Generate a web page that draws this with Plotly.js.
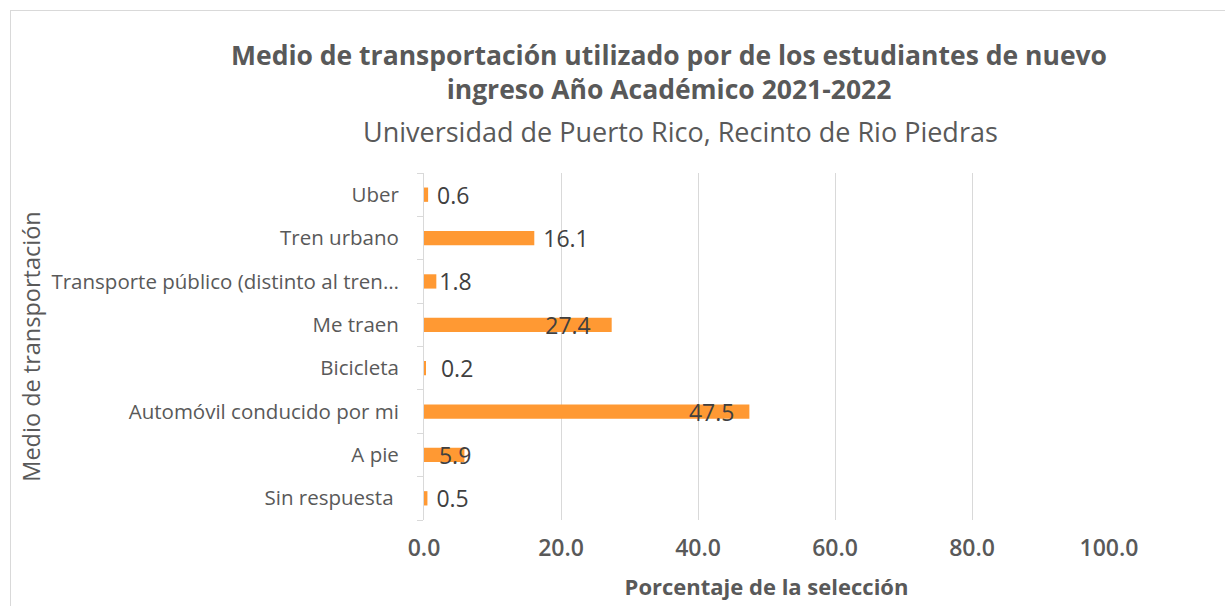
<!DOCTYPE html>
<html>
<head>
<meta charset="utf-8">
<script src="https://cdn.plot.ly/plotly-3.0.1.min.js"></script>
<style>
  html, body { margin: 0; padding: 0; background: #fff; }
  #wrap { position: relative; width: 1225px; height: 606px; overflow: hidden; }
  #frame { position: absolute; left: 10px; top: 10px; width: 2000px; height: 2000px;
           border: 1px solid #d9d9d9; pointer-events: none; }
  #chart { position: absolute; left: 0; top: 0; width: 1225px; height: 606px; }
</style>
</head>
<body>
<div id="wrap">
  <div id="frame"></div>
  <div id="chart"></div>
</div>
<script>
// Categories listed bottom to top
const categories = [
  'Sin respuesta ',
  'A pie',
  'Automóvil conducido por mi',
  'Bicicleta',
  'Me traen',
  'Transporte público (distinto al tren…',
  'Tren urbano',
  'Uber'
];
const percentages = [0.5, 5.9, 47.5, 0.2, 27.4, 1.8, 16.1, 0.6];
const labels = percentages.map(v => v.toFixed(1));
const xTickValues = [0, 20, 40, 60, 80, 100];
const xTickLabels = ['0.0', '20.0', '40.0', '60.0', '80.0', '100.0'];

const FONT = 'Open Sans, sans-serif';
const NB = '\u00a0';
// label placement (style only)
const labelPositions = ['outside', 'none', 'inside', 'outside', 'inside', 'outside', 'outside', 'outside'];
const labelTemplates = [NB + '%{text}', '%{text}', '%{text}' + NB + NB, NB + NB + '%{text}',
                        '%{text}' + NB + NB + NB, '%{text}', NB + '%{text}', NB + '%{text}'];
const startAnchored = 'A pie';

const labelFont = { family: FONT, size: 23, color: '#404040' };
const BAR = '#FF9933';

// main bars (all except the start-anchored label category)
const mainTrace = {
  type: 'bar',
  orientation: 'h',
  y: categories,
  x: percentages.map((v, i) => categories[i] === startAnchored ? null : v),
  text: labels.map((t, i) => categories[i] === startAnchored ? '' : t),
  textposition: labelPositions,
  texttemplate: labelTemplates,
  insidetextanchor: 'end',
  constraintext: 'none',
  cliponaxis: false,
  textfont: labelFont,
  insidetextfont: labelFont,
  outsidetextfont: labelFont,
  marker: { color: BAR },
  hoverinfo: 'x+y'
};
// start-anchored label bar
const startTrace = {
  type: 'bar',
  orientation: 'h',
  y: categories,
  x: percentages.map((v, i) => categories[i] === startAnchored ? v : null),
  text: labels.map((t, i) => categories[i] === startAnchored ? t : ''),
  textposition: 'inside',
  texttemplate: NB + NB + '%{text}',
  insidetextanchor: 'start',
  constraintext: 'none',
  cliponaxis: false,
  textfont: labelFont,
  insidetextfont: labelFont,
  marker: { color: BAR },
  hoverinfo: 'x+y'
};

const L = 424, R = 116, T = 173, B = 86, W = 1225, H = 606;
const px2paperX = px => (px - L) / (W - L - R);
const px2paperY = py => (H - B - py) / (H - T - B);

const layout = {
  width: W,
  height: H,
  paper_bgcolor: 'rgba(0,0,0,0)',
  plot_bgcolor: 'rgba(0,0,0,0)',
  margin: { l: L, r: R, t: T, b: B },
  barmode: 'overlay',
  bargap: 0.67,
  showlegend: false,
  font: { family: FONT, color: '#595959' },
  annotations: [
    {
      text: '<b>Medio de transportación utilizado por de los estudiantes de nuevo</b><br><b>ingreso Año Académico 2021-2022</b>',
      xref: 'paper', yref: 'paper', x: px2paperX(669), y: px2paperY(72.5),
      xanchor: 'center', yanchor: 'middle', showarrow: false,
      font: { family: FONT, size: 26.5, color: '#595959' }
    },
    {
      text: 'Universidad de Puerto Rico, Recinto de Rio Piedras',
      xref: 'paper', yref: 'paper', x: px2paperX(680), y: px2paperY(131),
      xanchor: 'center', yanchor: 'middle', showarrow: false,
      font: { family: FONT, size: 27, color: '#595959' }
    }
  ],
  xaxis: {
    range: [0, 100],
    tickvals: xTickValues,
    ticktext: xTickLabels,
    showgrid: true,
    gridcolor: '#d9d9d9',
    gridwidth: 1,
    zeroline: false,
    showline: false,
    ticks: '',
    ticklabelstandoff: 12,
    tickfont: { family: FONT, size: 23, color: '#595959', weight: 600 },
    title: {
      text: '<b>Porcentaje de la selección</b>',
      font: { family: FONT, size: 22, color: '#595959' },
      standoff: 17
    },
    fixedrange: true
  },
  yaxis: {
    type: 'category',
    showline: true,
    linecolor: '#d9d9d9',
    linewidth: 1,
    showgrid: false,
    ticks: 'outside',
    tickson: 'boundaries',
    ticklen: 6,
    tickcolor: '#d9d9d9',
    ticklabelstandoff: 20,
    tickfont: { family: FONT, size: 20.5, color: '#595959' },
    title: {
      text: 'Medio de transportación',
      font: { family: FONT, size: 23.5, color: '#595959' },
      standoff: 4
    },
    fixedrange: true
  }
};

Plotly.newPlot('chart', [mainTrace, startTrace], layout, { displayModeBar: false });
</script>
</body>
</html>
